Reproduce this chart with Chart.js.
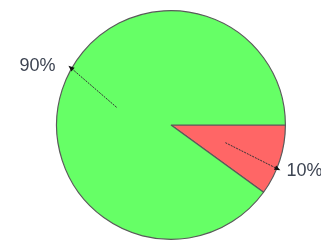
<!DOCTYPE html>
<html>
<head>
<meta charset="utf-8">
<script src="https://cdn.jsdelivr.net/npm/chart.js@4.4.1/dist/chart.umd.min.js"></script>
<style>
html,body{margin:0;padding:0;background:#fff;}
#wrap{width:321px;height:243px;}
</style>
</head>
<body>
<div id="wrap"><canvas id="c" width="321" height="243"></canvas></div>
<script>
const categories = ["B", "A"];
const values = [10, 90];
const percentLabels = ["10%", "90%"];
const sliceColors = ["#ff6666", "#66ff66"];

const leaderPlugin = {
  id: 'leader',
  afterDatasetsDraw(chart, args, opts) {
    const ctx = chart.ctx;
    const meta = chart.getDatasetMeta(0);
    meta.data.forEach((arc, i) => {
      const p = arc.getProps(['x','y','startAngle','endAngle','outerRadius'], true);
      const mid = (p.startAngle + p.endAngle) / 2;
      const r = p.outerRadius;
      const sx = p.x + Math.cos(mid) * r * 0.5;
      const sy = p.y + Math.sin(mid) * r * 0.5;
      const ea = mid + opts.offsets[i] * Math.PI / 180;
      const tx = p.x + Math.cos(ea) * r * 1.035;
      const ty = p.y + Math.sin(ea) * r * 1.035;
      const ang = Math.atan2(ty - sy, tx - sx);
      const bx = tx - Math.cos(ang) * 6;
      const by = ty - Math.sin(ang) * 6;
      ctx.save();
      ctx.strokeStyle = '#333';
      ctx.lineWidth = 1;
      ctx.setLineDash([2, 1]);
      ctx.beginPath();
      ctx.moveTo(sx, sy);
      ctx.lineTo(bx, by);
      ctx.stroke();
      ctx.setLineDash([]);
      ctx.fillStyle = '#111';
      ctx.beginPath();
      ctx.moveTo(tx, ty);
      ctx.lineTo(bx + Math.cos(ang + Math.PI/2) * 2.5, by + Math.sin(ang + Math.PI/2) * 2.5);
      ctx.lineTo(bx - Math.cos(ang + Math.PI/2) * 2.5, by - Math.sin(ang + Math.PI/2) * 2.5);
      ctx.closePath();
      ctx.fill();
      ctx.font = '18px "Liberation Sans", Arial, sans-serif';
      ctx.fillStyle = '#3d4452';
      ctx.textBaseline = 'middle';
      const right = Math.cos(ea) >= 0;
      ctx.textAlign = right ? 'left' : 'right';
      ctx.fillText(percentLabels[i], right ? tx + 6 : tx - 13, ty + 0.5);
      ctx.restore();
    });
  }
};

new Chart(document.getElementById('c'), {
  type: 'pie',
  data: {
    labels: categories,
    datasets: [{
      data: values,
      backgroundColor: sliceColors,
      borderColor: '#5a5a5a',
      borderWidth: 1.2
    }]
  },
  options: {
    responsive: false,
    animation: false,
    rotation: 90,
    layout: { padding: { left: 56, right: 35, top: 10, bottom: 3 } },
    plugins: {
      legend: { display: false },
      tooltip: { enabled: false },
      leader: { offsets: [4.5, 12] }
    }
  },
  plugins: [leaderPlugin]
});
</script>
</body>
</html>
